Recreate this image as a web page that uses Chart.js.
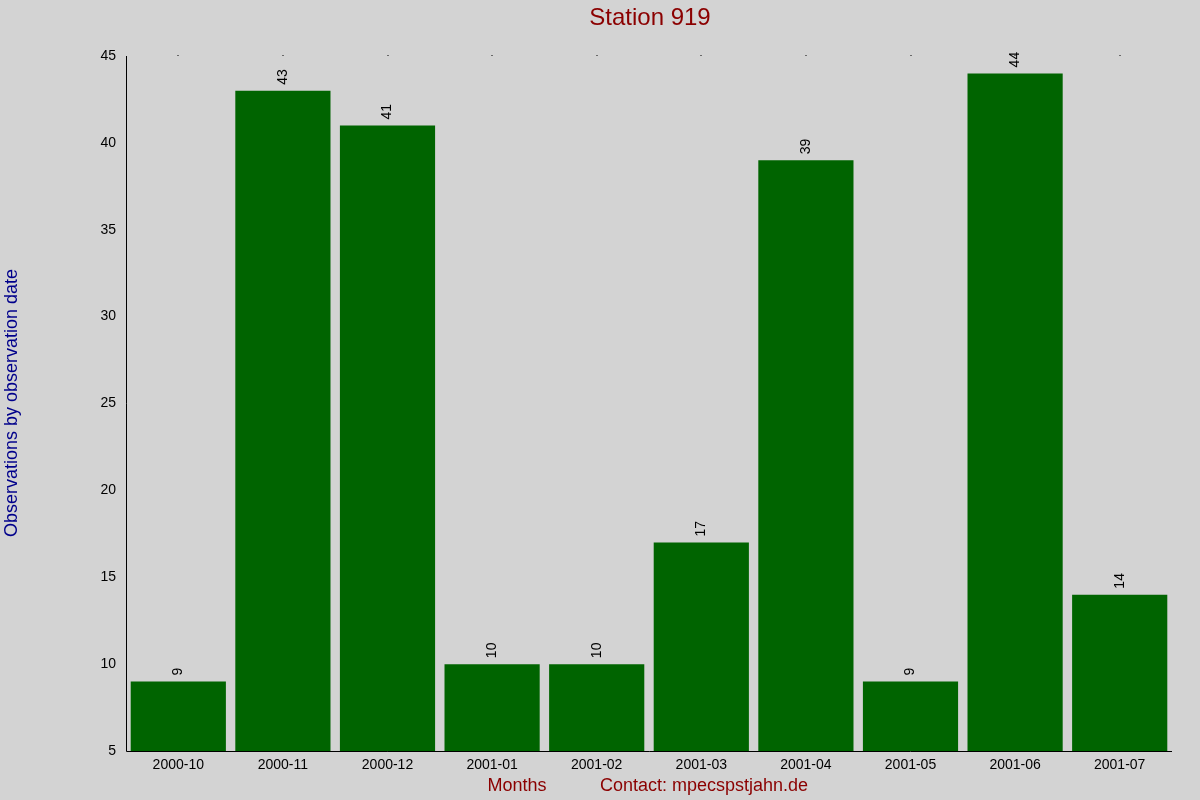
<!DOCTYPE html>
<html><head><meta charset="utf-8">
<script src="https://cdn.jsdelivr.net/npm/chart.js@4"></script>
<style>html,body{margin:0;padding:0;background:#d3d3d3}</style>
</head><body>
<div style="width:1200px;height:800px"><canvas id="c"></canvas></div>
<script>
const categories=["2000-10","2000-11","2000-12","2001-01","2001-02","2001-03","2001-04","2001-05","2001-06","2001-07"];
const values=[9,43,41,10,10,17,39,9,44,14];
const yTicks=[5,10,15,20,25,30,35,40,45];
const F="Liberation Sans, Arial, sans-serif";
const deco={id:'deco',afterDatasetsDraw(ch){
  const c=ch.ctx,a=ch.chartArea,x=ch.scales.x,y=ch.scales.y;
  c.save();
  c.fillStyle='#000';c.font='14px '+F;c.textAlign='left';c.textBaseline='middle';
  const m=ch.getDatasetMeta(0);
  m.data.forEach((b,i)=>{c.save();c.translate(b.x,b.y-6);c.rotate(-Math.PI/2);c.fillText(String(values[i]),0,0);c.restore();
    c.fillRect(Math.round(b.x)-0.5,a.top-1,1,1);});
  c.strokeStyle='#000';c.lineWidth=1;c.beginPath();
  c.moveTo(a.left+0.5,a.top);c.lineTo(a.left+0.5,a.bottom+0.5);c.lineTo(a.right,a.bottom+0.5);c.stroke();
  c.fillStyle='#8b0000';c.textAlign='center';c.font='24px '+F;c.fillText('Station 919',650,18);
  c.font='18px '+F;c.fillText('Months',517,786);c.fillText('Contact: mpecspstjahn.de',704,786);
  c.fillStyle='#00008b';c.save();c.translate(12,403);c.rotate(-Math.PI/2);c.fillText('Observations by observation date',0,0);c.restore();
  c.restore();}};
new Chart(document.getElementById('c'),{type:'bar',
 data:{labels:categories,datasets:[{data:values,backgroundColor:'#006400',barPercentage:0.91,categoryPercentage:1}]},
 options:{responsive:true,maintainAspectRatio:false,animation:false,devicePixelRatio:1,
  layout:{padding:{top:56,right:28,left:0,bottom:0}},
  plugins:{legend:{display:false},tooltip:{enabled:false}},
  scales:{
   x:{grid:{display:false,drawTicks:false},border:{display:false},ticks:{color:'#000',font:{size:14,family:F},padding:6,maxRotation:0},afterFit:s=>{s.height=49;}},
   y:{min:5,max:45,grid:{display:false,drawTicks:true,tickLength:6,color:'#000',drawOnChartArea:false},border:{display:false},
      ticks:{stepSize:5,color:'#000',font:{size:14,family:F},padding:4},afterFit:s=>{s.width=126;}}
  }},plugins:[deco]});
</script></body></html>
